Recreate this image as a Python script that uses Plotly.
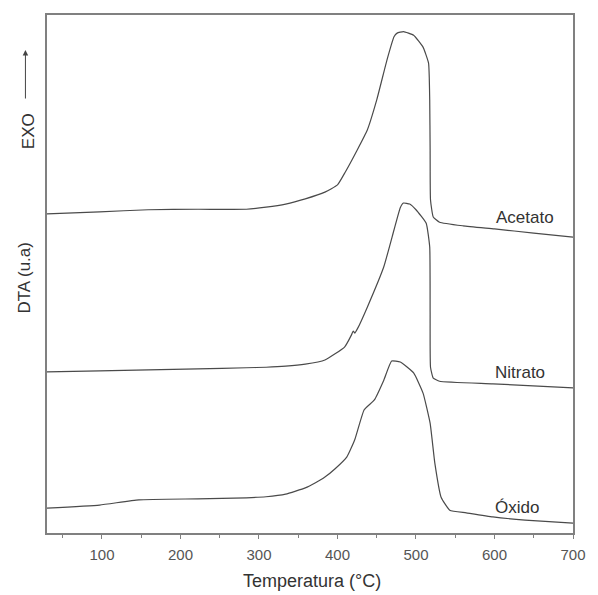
import plotly.graph_objects as go

# DTA curves (arbitrary units) versus temperature in °C
acetato_t = [30, 97, 159, 222, 284, 309, 334, 359, 384, 400, 410, 425, 438, 450, 463, 472,
             476, 484, 497, 509, 516, 517.5, 518, 518.5, 522, 530, 560, 600, 650, 700]
acetato_v = [61.6, 62.0, 62.4, 62.5, 62.5, 62.9, 63.5, 64.5, 65.8, 67.2, 69.7, 73.9, 77.8, 83.6,
             91.3, 95.8, 96.5, 96.8, 96.1, 93.8, 90.7, 83.6, 73.9, 64.3, 61.0, 60.0, 59.3,
             58.7, 57.9, 57.1]

nitrato_t = [30, 97, 159, 222, 284, 309, 334, 359, 384, 409, 418, 420, 422, 426, 438, 459,
             472, 480, 484, 492, 500, 513, 517.5, 518, 518.5, 522, 530, 598, 700]
nitrato_v = [31.1, 31.3, 31.5, 31.7, 31.9, 32.0, 32.2, 32.6, 33.4, 35.9, 38.3, 39.0, 38.6,
             39.6, 43.6, 51.4, 58.5, 62.8, 63.7, 63.5, 62.4, 59.8, 55.2, 42.5, 32.0, 29.9,
             29.3, 28.8, 28.0]

oxido_t = [30, 97, 147, 222, 284, 309, 334, 359, 372, 384, 397, 412, 422, 434, 447, 459,
           469, 480, 497, 509, 518, 524, 532, 543, 564, 598, 639, 700]
oxido_v = [4.8, 5.4, 6.4, 6.6, 6.8, 7.0, 7.5, 8.7, 9.7, 10.8, 12.4, 14.7, 18.0, 23.8, 25.7,
           29.5, 33.2, 33.0, 30.9, 27.0, 21.2, 13.5, 6.9, 4.4, 3.9, 3.1, 2.5, 1.9]

series_names = ["Acetato", "Nitrato", "Óxido"]
label_t = [639, 633, 629]
label_v = [61.0, 30.9, 4.9]

x_ticks = [100, 200, 300, 400, 500, 600, 700]
x_minor = [50, 150, 250, 350, 450, 550, 650]

curve_color = "#4a4a4a"
frame_color = "#808080"
text_color = "#333333"
font_family = "Liberation Sans, Arial"

fig = go.Figure()
for t, v, name in zip([acetato_t, nitrato_t, oxido_t],
                      [acetato_v, nitrato_v, oxido_v], series_names):
    fig.add_trace(go.Scatter(x=t, y=v, mode="lines", name=name,
                             line=dict(color=curve_color, width=1.2, shape="spline",
                                       smoothing=0.4)))

for name, t, v in zip(series_names, label_t, label_v):
    fig.add_annotation(x=t, y=v, text=name, showarrow=False,
                       font=dict(family=font_family, size=17, color=text_color),
                       xanchor="center", yanchor="middle")

# axis titles and the exothermic direction marker
fig.add_annotation(xref="paper", yref="paper", x=0.504, y=-0.093,
                   text="Temperatura (°C)", showarrow=False,
                   xanchor="center", yanchor="middle",
                   font=dict(family=font_family, size=18, color=text_color))
fig.add_annotation(xref="paper", yref="paper", x=-0.042, y=0.493, text="DTA (u.a)",
                   textangle=-90, showarrow=False, xanchor="center", yanchor="middle",
                   font=dict(family=font_family, size=17, color=text_color))
fig.add_annotation(xref="paper", yref="paper", x=-0.035, y=0.775, text="EXO",
                   textangle=-90, showarrow=False, xanchor="center", yanchor="middle",
                   font=dict(family=font_family, size=17, color=text_color))
fig.add_annotation(xref="paper", yref="paper", x=-0.041, y=0.9324, text="",
                   showarrow=True, ax=0, ay=50, arrowhead=2, arrowsize=1.1,
                   arrowwidth=1, arrowcolor="#444444")

fig.update_layout(
    width=598, height=595,
    margin=dict(l=47, r=15, t=15, b=62),
    paper_bgcolor="white", plot_bgcolor="white",
    showlegend=False,
    font=dict(family=font_family, color="#555555"),
)
fig.update_xaxes(
    range=[30, 700], tickvals=x_ticks, ticks="outside", ticklen=4, tickwidth=1,
    tickcolor=frame_color, showgrid=False, zeroline=False,
    showline=True, linecolor=frame_color, linewidth=2, mirror=True,
    tickfont=dict(size=15, color="#555555"), ticklabelstandoff=3,
    minor=dict(tickvals=x_minor, ticks="outside", ticklen=3, tickcolor=frame_color),
)
fig.update_yaxes(
    range=[0, 100], showticklabels=False, ticks="", showgrid=False, zeroline=False,
    showline=True, linecolor=frame_color, linewidth=2, mirror=True,
)

fig.write_html("out.html")
